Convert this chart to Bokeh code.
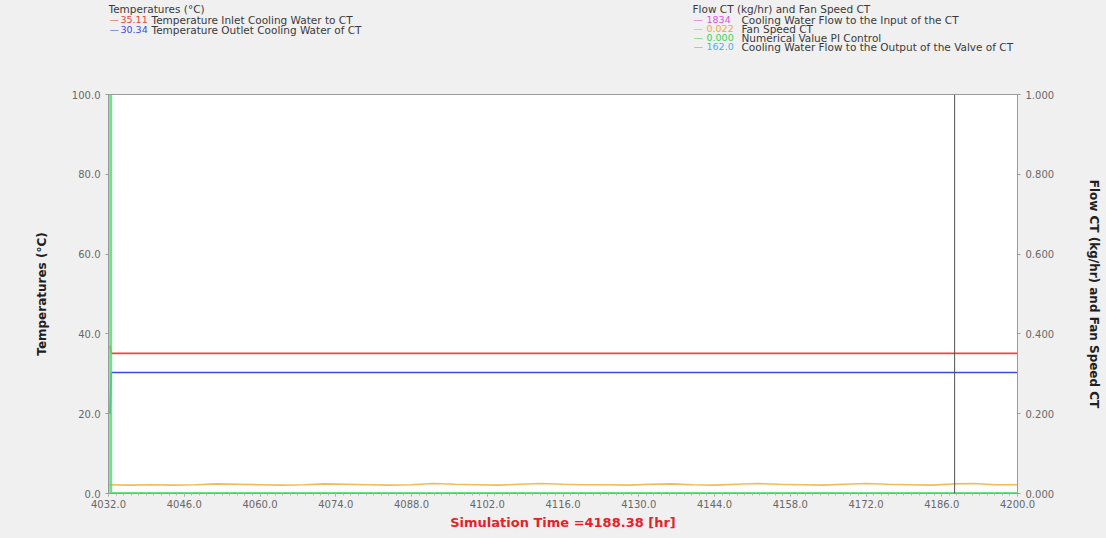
from bokeh.plotting import figure
from bokeh.layouts import column
from bokeh.models import (Range1d, LinearAxis, FixedTicker, Span,
                          CustomJSTickFormatter)
from bokeh.core.properties import value
from bokeh.embed import file_html
from bokeh.resources import INLINE

# ---- data -------------------------------------------------------------
x_ticks = [4032.0, 4046.0, 4060.0, 4074.0, 4088.0, 4102.0, 4116.0,
           4130.0, 4144.0, 4158.0, 4172.0, 4186.0, 4200.0]
temp_ticks = [0.0, 20.0, 40.0, 60.0, 80.0, 100.0]
flow_ticks = [0.0, 0.2, 0.4, 0.6, 0.8, 1.0]

cursor_time = 4188.38

# temperatures (left axis)
t_time = [4032.3, 4032.5, 4200.0]
t_inlet = [37.0, 35.11, 35.11]
t_outlet = [20.0, 30.34, 30.34]

# fan speed CT (right axis), sampled every 4 hr
fan_time = [4032, 4036, 4040, 4044, 4048, 4052, 4056, 4060, 4064, 4068,
            4072, 4076, 4080, 4084, 4088, 4092, 4096, 4100, 4104, 4108,
            4112, 4116, 4120, 4124, 4128, 4132, 4136, 4140, 4144, 4148,
            4152, 4156, 4160, 4164, 4168, 4172, 4176, 4180, 4184, 4188,
            4192, 4196, 4200]
fan_speed = [0.022, 0.021, 0.022, 0.021, 0.022, 0.024, 0.023, 0.022, 0.021,
             0.022, 0.024, 0.023, 0.022, 0.021, 0.022, 0.025, 0.023, 0.022,
             0.021, 0.023, 0.025, 0.023, 0.022, 0.022, 0.021, 0.023, 0.024,
             0.022, 0.021, 0.023, 0.025, 0.023, 0.022, 0.021, 0.023, 0.025,
             0.023, 0.022, 0.021, 0.024, 0.025, 0.022, 0.022]

# PI control value (right axis)
pi_time = [4032.4, 4032.4, 4200.0]
pi_value = [1.0, 0.0, 0.0]

# flows (right axis scale, values in kg/hr)
flow_time = [4032.0, 4200.0]
flow_in = [1834.0, 1834.0]
flow_out = [162.0, 162.0]

# legend entries: (colour, value text, description)
temp_legend = [("#e8483c", "35.11", "Temperature Inlet Cooling Water to CT"),
               ("#3c48e8", "30.34", "Temperature Outlet Cooling Water of CT")]
flow_legend = [("#e050e0", "1834", "Cooling Water Flow to the Input of the CT"),
               ("#f0a830", "0.022", "Fan Speed CT"),
               ("#40d050", "0.000", "Numerical Value PI Control"),
               ("#40b0f0", "162.0", "Cooling Water Flow to the Output of the Valve of CT")]

# ---- layout constants -------------------------------------------------
W, H = 1106, 538
HEAD = 88                      # height of the legend strip
FL, FR, FT, FB = 108, 1017, 94, 493
X0, X1, Y0, Y1 = 4032.0, 4200.0, 0.0, 100.0
BG = "#f0f0f0"
font = "DejaVu Sans"
tick_color = "#686868"

# ---- legend strip (pixel coordinates, y pointing down) ---------------
# the strip's frame is aligned with the chart frame below it
head = figure(width=W, height=HEAD, output_backend="svg", toolbar_location=None,
              x_range=Range1d(FL, FR), y_range=Range1d(HEAD, 0),
              min_border_left=FL, min_border_right=W - FR,
              min_border_top=0, min_border_bottom=0,
              x_axis_type=None, y_axis_type=None)
head.border_fill_color = BG
head.background_fill_color = BG
head.outline_line_color = None
head.grid.visible = False

tx, ty, tt, tc, ts = [], [], [], [], []

def put(text, cx, cy, color="#3a3a3a", size="10.5px"):
    tx.append(cx); ty.append(cy); tt.append(text); tc.append(color); ts.append(size)

put("Temperatures (°C)", 108, 8)
for i, (c, v, d) in enumerate(temp_legend):
    cy = 19 + 10 * i
    put("—", 109, cy, color=c, size="9.5px")
    put(v, 120, cy, color=c, size="9.5px")
    put(d, 151, cy)

put("Flow CT (kg/hr) and Fan Speed CT", 692, 8)
for i, (c, v, d) in enumerate(flow_legend):
    cy = 19 + 9 * i
    put("—", 693, cy, color=c, size="9.5px")
    put(v, 706, cy, color=c, size="9.5px")
    put(d, 741, cy)

head.text(x=tx, y=ty, text=tt, text_color=tc, text_font=value(font),
          text_font_size=ts, text_baseline="middle", text_align="left")

# ---- main chart -------------------------------------------------------
p = figure(width=W, height=H - HEAD, output_backend="svg", toolbar_location=None,
           x_range=Range1d(X0, X1), y_range=Range1d(Y0, Y1),
           min_border_left=FL, min_border_right=W - FR,
           min_border_top=FT - HEAD, min_border_bottom=H - FB)
p.border_fill_color = BG
p.background_fill_color = "white"
p.outline_line_color = "#9a9a9a"
p.grid.visible = False
p.extra_y_ranges = {"flow": Range1d(0, 1)}

p.xaxis.ticker = FixedTicker(ticks=x_ticks,
                             minor_ticks=[4032 + 1.4 * i for i in range(121)])
p.xaxis.formatter = CustomJSTickFormatter(code="return tick.toFixed(1);")
p.xaxis.axis_label = f"Simulation Time ={cursor_time:.2f} [hr]"
p.xaxis.axis_label_text_color = "#e8202a"
p.xaxis.axis_label_text_font_size = "13px"
p.xaxis.axis_label_standoff = 4
p.xaxis.major_label_standoff = 3

p.yaxis.ticker = FixedTicker(ticks=temp_ticks)
p.yaxis.formatter = CustomJSTickFormatter(code="return tick.toFixed(1);")
p.yaxis.axis_label = "Temperatures (°C)"
p.yaxis.axis_label_standoff = 20

right = LinearAxis(y_range_name="flow",
                   ticker=FixedTicker(ticks=flow_ticks),
                   formatter=CustomJSTickFormatter(code="return tick.toFixed(3);"),
                   axis_label="Flow CT (kg/hr) and Fan Speed CT",
                   axis_label_standoff=30)
p.add_layout(right, "right")

for ax in [p.xaxis[0], p.yaxis[0], right]:
    ax.axis_line_color = "#9a9a9a"
    ax.major_tick_line_color = "#9a9a9a"
    ax.minor_tick_line_color = "#b8b8b8"
    ax.major_tick_out = 3
    ax.major_tick_in = 0
    ax.minor_tick_out = 2
    ax.minor_tick_in = 0
    ax.major_label_text_font = font
    ax.major_label_text_font_size = "10px"
    ax.major_label_text_color = tick_color
    ax.axis_label_text_font = font
    ax.axis_label_text_font_style = "bold"
    if ax is not p.xaxis[0]:
        ax.axis_label_text_font_size = "12px"
        ax.axis_label_text_color = "#202020"
        ax.minor_tick_line_color = None

p.line(flow_time, flow_in, y_range_name="flow", color=flow_legend[0][0], line_width=1.5)
p.line(flow_time, flow_out, y_range_name="flow", color=flow_legend[3][0], line_width=1.5)
p.line(fan_time, fan_speed, y_range_name="flow", color=flow_legend[1][0],
       line_width=1.6, line_alpha=0.8)
p.line(t_time, t_inlet, color=temp_legend[0][0], line_width=1.6)
p.line(t_time, t_outlet, color=temp_legend[1][0], line_width=1.6)
p.line(pi_time, pi_value, y_range_name="flow", color="#50e070",
       line_width=3, line_alpha=0.85)

p.add_layout(Span(location=cursor_time, dimension="height",
                  line_color="#505050", line_width=1))

page = column(head, p, spacing=0, styles={"background-color": BG})
open("out.html", "w").write(file_html(page, INLINE))
